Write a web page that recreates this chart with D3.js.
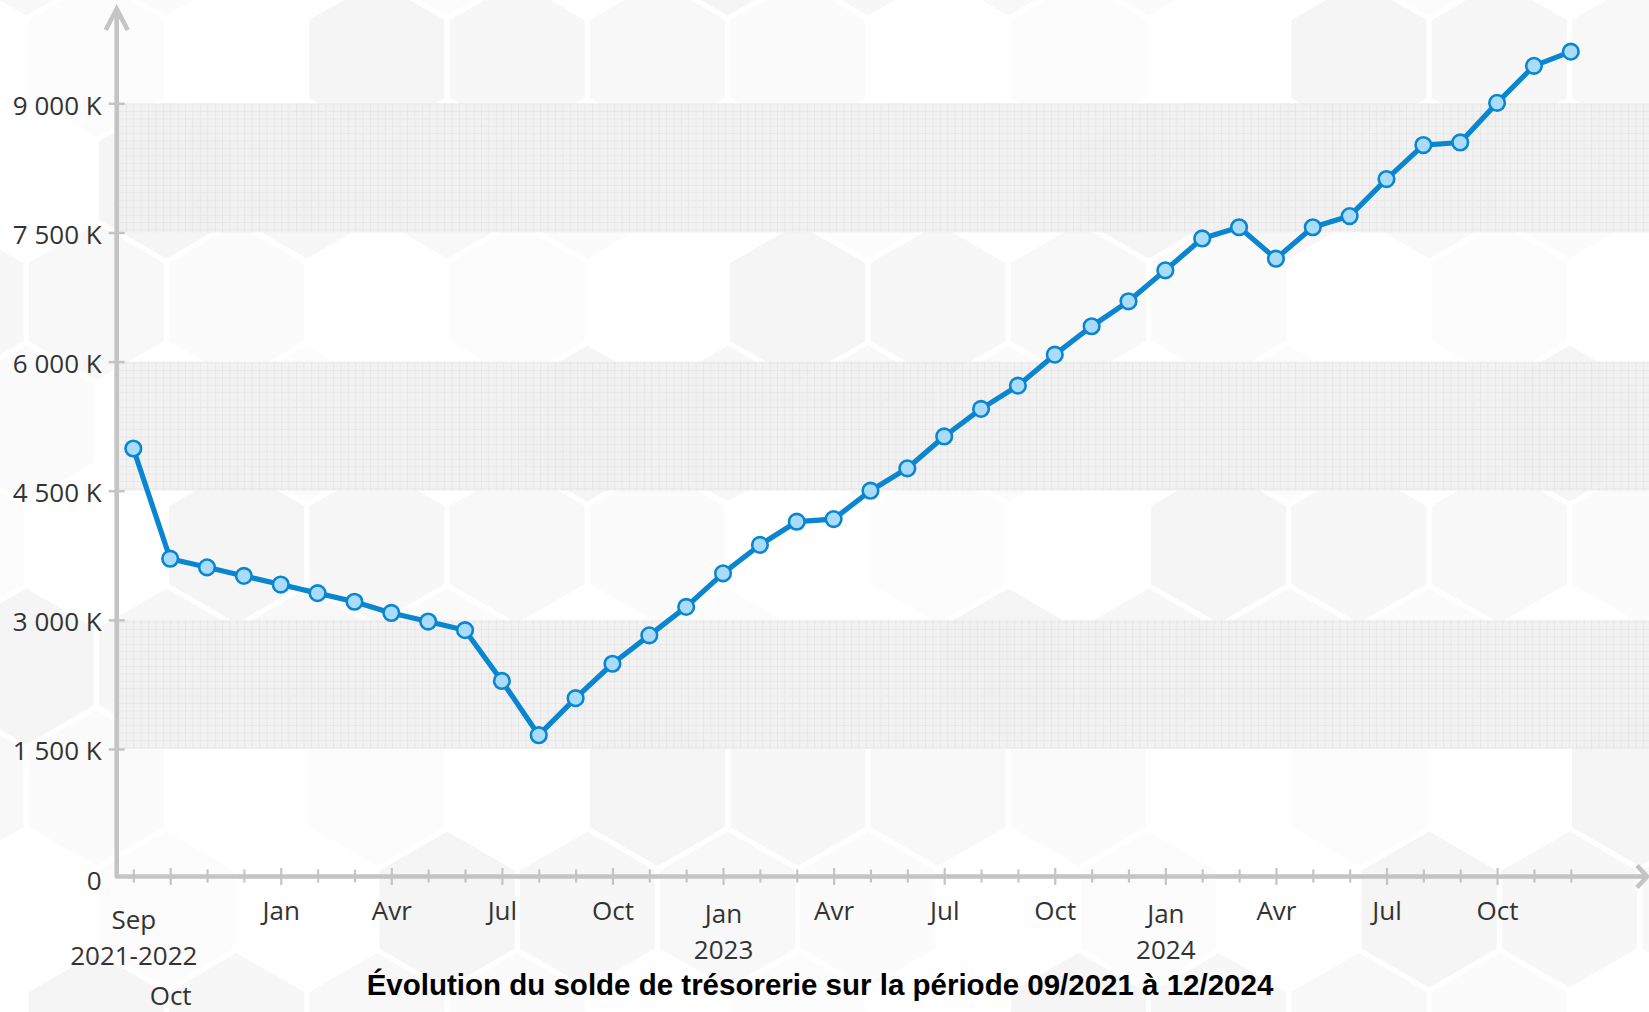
<!DOCTYPE html>
<html><head><meta charset="utf-8">
<script src="https://cdn.jsdelivr.net/npm/d3@7"></script>
<style>html,body{margin:0;padding:0;background:#fff;overflow:hidden}</style>
</head><body><svg id="c" width="1649" height="1012"></svg>
<script>
// ---- data ----
const months = [
  "2021-09","2021-10","2021-11","2021-12",
  "2022-01","2022-02","2022-03","2022-04","2022-05","2022-06","2022-07","2022-08","2022-09","2022-10","2022-11","2022-12",
  "2023-01","2023-02","2023-03","2023-04","2023-05","2023-06","2023-07","2023-08","2023-09","2023-10","2023-11","2023-12",
  "2024-01","2024-02","2024-03","2024-04","2024-05","2024-06","2024-07","2024-08","2024-09","2024-10","2024-11","2024-12"
];
const soldeK = [
  4990, 3710, 3610, 3510,
  3410, 3310, 3210, 3080, 2980, 2880, 2290, 1660, 2090, 2490, 2820, 3150,
  3540, 3870, 4140, 4170, 4500, 4760, 5130, 5450, 5720, 6080, 6410, 6700,
  7060, 7430, 7560, 7195, 7560, 7690, 8120, 8515, 8545, 9005, 9435, 9600
];
const yTicks = [0, 1500, 3000, 4500, 6000, 7500, 9000];
const bands = [[1500, 3000], [4500, 6000], [7500, 9000]];
// tick label lines per month (first line, second line, third line)
const xTickLabels = [
  ["2021-09", "Sep", "2021-2022"],
  ["2021-10", "", "", "Oct"],
  ["2022-01", "Jan"], ["2022-04", "Avr"], ["2022-07", "Jul"], ["2022-10", "Oct"],
  ["2023-01", "Jan", "2023"], ["2023-04", "Avr"], ["2023-07", "Jul"], ["2023-10", "Oct"],
  ["2024-01", "Jan", "2024"], ["2024-04", "Avr"], ["2024-07", "Jul"], ["2024-10", "Oct"]
];
const majorMonths = ["01", "04", "07", "10"];
const title = "Évolution du solde de trésorerie sur la période 09/2021 à 12/2024";

// ---- drawing ----
const W = 1649, H = 1012;
const svg = d3.select("#c");
const defs = svg.append("defs");
const axisColor = "#c4c4c4";
const lineColor = "#0a86d0";
const tickFont = "'Open Sans', 'Segoe UI', sans-serif";

svg.append("rect").attr("width", W).attr("height", H).attr("fill", "#fff");

// hexagon background (decoration, very faint)
const hr = 81, hx = Math.sqrt(3) * hr, hy = 1.5 * hr;
const hexShades = ["#fcfcfc", "#f7f7f7", "#ffffff", "#f5f5f5", "#fbfbfb", "#ffffff", "#f8f8f8"];
const hexG = svg.append("g");
for (let k = -5; k <= 4; k++) {
  const cy = 545 + k * hy;
  const off = (Math.abs(k) % 2 === 1) ? hx / 2 : 0;
  for (let m = -3; m <= 11; m++) {
    const cx = 236.6 + off + m * hx;
    const rr = hr - 3;
    const pts = d3.range(6).map(i => {
      const a = Math.PI / 180 * (60 * i - 90);
      return [cx + rr * Math.cos(a), cy + rr * Math.sin(a)];
    });
    hexG.append("polygon")
      .attr("points", pts.map(p => p.join(",")).join(" "))
      .attr("fill", hexShades[((k + 10) * 3 + (m + 10) * 5) % hexShades.length]);
  }
}

// scales
const x = d3.scalePoint().domain(months).range([133.3, 1570.8]);
const y = d3.scaleLinear().domain([0, 9000]).range([878.1, 103.3]);
const axisY = 876.5, axisX = 116.7;

// band pattern
const pat = defs.append("pattern").attr("id", "grid").attr("patternUnits", "userSpaceOnUse")
  .attr("width", 7.4).attr("height", 7.4);
pat.append("rect").attr("width", 7.4).attr("height", 7.4).attr("fill", "#f1f1f1");
pat.append("path").attr("d", "M0,0.5H7.4M0.5,0V7.4").attr("stroke", "#e3e3e3").attr("stroke-width", 1);
pat.append("circle").attr("cx", 4.2).attr("cy", 4.2).attr("r", 0.8).attr("fill", "#e9e9e9");

svg.append("g").selectAll("rect").data(bands).join("rect")
  .attr("x", axisX + 1.5).attr("width", W - axisX)
  .attr("y", d => y(d[1])).attr("height", d => y(d[0]) - y(d[1]))
  .attr("fill", "url(#grid)").attr("opacity", 0.85);

// y axis (values are already in thousands, "K")
const fr = d3.formatLocale({decimal: ",", thousands: "\u00a0", grouping: [3], currency: ["", "\u00a0€"]});
const fmtK = v => v === 0 ? "0" : fr.format(",")(v) + "\u00a0K";
const gy = svg.append("g").attr("transform", `translate(${axisX},0)`)
  .call(d3.axisLeft(y).tickValues(yTicks).tickFormat(fmtK).tickSize(0));
gy.select(".domain").remove();
gy.selectAll(".tick line").attr("x1", -8).attr("x2", 8).attr("stroke", axisColor).attr("stroke-width", 2.5);
gy.selectAll(".tick").filter(d => d === 0).select("line").remove();
gy.selectAll(".tick text").attr("x", -15).attr("dy", 11)
  .attr("font-family", tickFont).attr("font-size", 26).attr("fill", "#333");

// x axis
const gx = svg.append("g").attr("transform", `translate(0,${axisY})`)
  .call(d3.axisBottom(x).tickValues(months).tickFormat(() => "").tickSize(0));
gx.select(".domain").remove();
gx.selectAll(".tick line")
  .attr("y1", d => majorMonths.includes(d.slice(5)) ? -8.5 : -7)
  .attr("y2", d => majorMonths.includes(d.slice(5)) ? 8.5 : 6)
  .attr("stroke", axisColor).attr("stroke-width", 2.2);
gx.selectAll(".tick text").remove();
const labelMap = new Map(xTickLabels.map(r => [r[0], r.slice(1)]));
gx.selectAll(".tick").each(function (d) {
  const lines = labelMap.get(d);
  if (!lines) return;
  const g = d3.select(this);
  const hasYear = lines.length > 1 && lines[1];
  const isSep = d.slice(5) === "09";
  const base = isSep ? 52.8 : (hasYear ? 46.8 : 43.5);
  const ys = [base, base + 36, 128];
  lines.forEach((t, i) => {
    if (!t) return;
    g.append("text").attr("y", ys[i]).attr("text-anchor", "middle")
      .attr("font-family", tickFont).attr("font-size", 26).attr("fill", "#333").text(t);
  });
});

// axis lines with arrows
svg.append("path")
  .attr("d", `M${axisX},10V${axisY}H1647`)
  .attr("fill", "none").attr("stroke", axisColor).attr("stroke-width", 4.6).attr("stroke-linejoin", "round");
svg.append("path")
  .attr("d", `M${axisX - 11},30L${axisX},9L${axisX + 11},30`)
  .attr("fill", "none").attr("stroke", axisColor).attr("stroke-width", 4.6).attr("stroke-linejoin", "miter");
svg.append("path")
  .attr("d", `M1637,${axisY - 11}L1647,${axisY}L1637,${axisY + 11}`)
  .attr("fill", "none").attr("stroke", axisColor).attr("stroke-width", 4.6);

// line + markers
const pts = months.map((m, i) => ({m, v: soldeK[i]}));
svg.append("path").datum(pts)
  .attr("d", d3.line().x(d => x(d.m)).y(d => y(d.v)))
  .attr("fill", "none").attr("stroke", lineColor).attr("stroke-width", 5.2).attr("stroke-linejoin", "round");
svg.append("g").selectAll("circle").data(pts).join("circle")
  .attr("cx", d => x(d.m)).attr("cy", d => y(d.v)).attr("r", 7.8)
  .attr("fill", "#a9dcfa").attr("stroke", lineColor).attr("stroke-width", 2.6);

// title
svg.append("text").attr("x", 820).attr("y", 995).attr("text-anchor", "middle")
  .attr("font-family", "'Liberation Sans', Arial, sans-serif").attr("font-weight", "bold")
  .attr("font-size", 29.5).attr("fill", "#000").text(title);
</script></body></html>
